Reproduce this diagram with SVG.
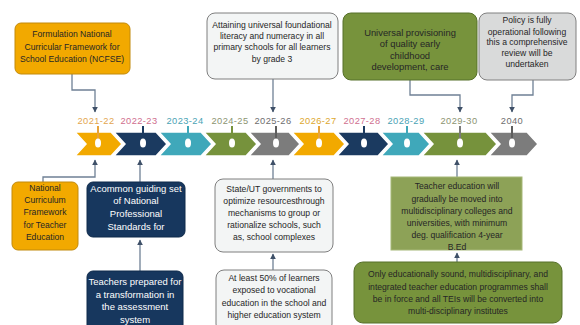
<svg xmlns="http://www.w3.org/2000/svg" width="580" height="325" viewBox="0 0 580 325">
<defs>
<marker id="ah" viewBox="0 0 10 10" refX="9" refY="5" markerWidth="6" markerHeight="6" orient="auto" markerUnits="userSpaceOnUse">
<path d="M0,0 L10,5 L0,10 z" fill="#3E5068"/>
</marker>
<style>
.t{font-family:"Liberation Sans",Arial,sans-serif;font-size:8.6px;text-anchor:middle}
.dk{fill:#262626}
.wh{fill:#ffffff}
.yr{font-family:"Liberation Sans",Arial,sans-serif;font-size:9.3px;text-anchor:middle;letter-spacing:0.4px}
.cv{stroke:#ffffff;stroke-width:1.5}
.stem{stroke-width:2;fill:none}
.dot{fill:#ffffff}
.con{fill:none;stroke:#6F8095;stroke-width:1.3}
.org{fill:#F2A900;stroke:#C28A0C;stroke-width:1}
.nav{fill:#17375E;stroke:#0F2A4A;stroke-width:1}
.lt{fill:#F3F5F5;stroke:#7F7F7F;stroke-width:1}
.olv{fill:#77933C;stroke:#56702A;stroke-width:1}
.gry{fill:#D9DADA;stroke:#808080;stroke-width:1}
</style>
</defs>
<rect width="580" height="325" fill="#ffffff"/>

<g id="timeline">
<polygon class="cv" fill="#F2A900" points="75,132 111,132 122,144 111,156 75,156 86,144"/>
<polygon class="cv" fill="#1B3A60" points="114,132 156,132 167,144 156,156 114,156 125,144"/>
<polygon class="cv" fill="#3FA8BA" points="159,132 201,132 212,144 201,156 159,156 170,144"/>
<polygon class="cv" fill="#76923C" points="204,132 246,132 257,144 246,156 204,156 215,144"/>
<polygon class="cv" fill="#7C7C7C" points="249,132 289,132 300,144 289,156 249,156 260,144"/>
<polygon class="cv" fill="#F2A900" points="292,132 334,132 345,144 334,156 292,156 303,144"/>
<polygon class="cv" fill="#1B3A60" points="337,132 378,132 389,144 378,156 337,156 348,144"/>
<polygon class="cv" fill="#3FA8BA" points="381,132 419,132 430,144 419,156 381,156 392,144"/>
<polygon class="cv" fill="#76923C" points="422,132 486,132 497,144 486,156 422,156 433,144"/>
<polygon class="cv" fill="#7C7C7C" points="489,132 527,132 538,144 527,156 489,156 500,144"/>

<line class="stem" stroke="#E8A33A" x1="98" y1="126" x2="98" y2="140"/>
<line class="stem" stroke="#1B3A60" x1="143" y1="126" x2="143" y2="140"/>
<line class="stem" stroke="#3FA8BA" x1="188" y1="126" x2="188" y2="140"/>
<line class="stem" stroke="#76923C" x1="232" y1="126" x2="232" y2="140"/>
<line class="stem" stroke="#5E5E5E" x1="276" y1="126" x2="276" y2="140"/>
<line class="stem" stroke="#E8A33A" x1="319" y1="126" x2="319" y2="140"/>
<line class="stem" stroke="#1B3A60" x1="364" y1="126" x2="364" y2="140"/>
<line class="stem" stroke="#3FA8BA" x1="407" y1="126" x2="407" y2="140"/>
<line class="stem" stroke="#7A7A7A" x1="460" y1="126" x2="460" y2="140"/>
<line class="stem" stroke="#5E5E5E" x1="512" y1="126" x2="512" y2="140"/>

<ellipse class="dot" cx="98" cy="143" rx="3" ry="4.5"/>
<ellipse class="dot" cx="143" cy="143" rx="3" ry="4.5"/>
<ellipse class="dot" cx="188" cy="143" rx="3" ry="4.5"/>
<ellipse class="dot" cx="232" cy="143" rx="3" ry="4.5"/>
<ellipse class="dot" cx="276" cy="143" rx="3" ry="4.5"/>
<ellipse class="dot" cx="319" cy="143" rx="3" ry="4.5"/>
<ellipse class="dot" cx="364" cy="143" rx="3" ry="4.5"/>
<ellipse class="dot" cx="407" cy="143" rx="3" ry="4.5"/>
<ellipse class="dot" cx="460" cy="143" rx="3" ry="4.5"/>
<ellipse class="dot" cx="512" cy="143" rx="3" ry="4.5"/>

<text class="yr" x="96" y="124" fill="#E3A650">2021-22</text>
<text class="yr" x="139" y="124" fill="#CF6E8E">2022-23</text>
<text class="yr" x="185" y="124" fill="#4AA3B5">2023-24</text>
<text class="yr" x="230" y="124" fill="#8C9471">2024-25</text>
<text class="yr" x="273" y="124" fill="#6E6E6E">2025-26</text>
<text class="yr" x="318" y="124" fill="#DDA72E">2026-27</text>
<text class="yr" x="362" y="124" fill="#D07090">2027-28</text>
<text class="yr" x="406" y="124" fill="#4AA3B5">2028-29</text>
<text class="yr" x="459" y="124" fill="#8C9471">2029-30</text>
<text class="yr" x="512" y="124" fill="#6E6E6E">2040</text>
</g>

<g id="connectors">
<path class="con" d="M72,74 V90 H95 V112" marker-end="url(#ah)"/>
<path class="con" d="M273,79 V112" marker-end="url(#ah)"/>
<path class="con" d="M410,80 V95 H460 V112" marker-end="url(#ah)"/>
<path class="con" d="M533,80 V95 H512 V112" marker-end="url(#ah)"/>
<path class="con" d="M43,182 V177 H95 V160" marker-end="url(#ah)"/>
<path class="con" d="M140,182 V160" marker-end="url(#ah)"/>
<path class="con" d="M140,271 V240" marker-end="url(#ah)"/>
<path class="con" d="M273,179 V160" marker-end="url(#ah)"/>
<path class="con" d="M273,270 V254" marker-end="url(#ah)"/>
<path class="con" d="M457,177 V160" marker-end="url(#ah)"/>
<path class="con" d="M457,262 V253" marker-end="url(#ah)"/>
</g>

<g id="ncfse">
<rect class="org" x="15" y="23" width="115" height="51" rx="6"/>
<text class="t dk"><tspan x="72" y="37">Formulation National</tspan><tspan x="72" y="49.5">Curricular  Framework for</tspan><tspan x="72" y="62">School Education (NCFSE)</tspan></text>
</g>

<g id="foundational">
<rect class="lt" x="207" y="13" width="131" height="66" rx="8"/>
<text class="t dk"><tspan x="272" y="28">Attaining  universal foundational</tspan><tspan x="272" y="39">literacy and  numeracy in all</tspan><tspan x="272" y="50">primary schools for all learners</tspan><tspan x="272" y="62">by grade 3</tspan></text>
</g>

<g id="ecce">
<rect class="olv" x="343" y="13" width="134" height="67" rx="8"/>
<text class="t dk" style="font-size:9.4px"><tspan x="410" y="35.5">Universal provisioning</tspan><tspan x="410" y="47">of  quality  early</tspan><tspan x="410" y="58.5">childhood</tspan><tspan x="410" y="70">development, care</tspan></text>
</g>

<g id="policy">
<rect class="gry" x="479" y="13" width="97" height="67" rx="8"/>
<text class="t dk"><tspan x="527" y="23">Policy is fully</tspan><tspan x="527" y="34.5">operational following</tspan><tspan x="527" y="45">this a comprehensive</tspan><tspan x="527" y="56">review will be</tspan><tspan x="527" y="66.5">undertaken</tspan></text>
</g>

<g id="ncfte">
<rect class="org" x="12" y="182" width="66" height="68" rx="6"/>
<text class="t dk"><tspan x="45" y="191">National</tspan><tspan x="45" y="203">Curriculum</tspan><tspan x="45" y="215">Framework</tspan><tspan x="45" y="228">for Teacher</tspan><tspan x="45" y="240">Education</tspan></text>
</g>

<g id="standards">
<rect class="nav" x="87" y="182" width="98" height="55" rx="6"/>
<text class="t wh" style="font-size:9.5px"><tspan x="136" y="192">Acommon guiding set</tspan><tspan x="136" y="204">of  National</tspan><tspan x="136" y="217">Professional</tspan><tspan x="136" y="230">Standards  for</tspan></text>
</g>

<g id="assessment">
<rect class="nav" x="87" y="271" width="96" height="62" rx="6"/>
<text class="t wh" style="font-size:9.5px"><tspan x="135" y="285">Teachers prepared for</tspan><tspan x="135" y="297.5">a  transformation in</tspan><tspan x="135" y="310">the  assessment</tspan><tspan x="135" y="322.5">system</tspan></text>
</g>

<g id="complexes">
<rect class="lt" x="215" y="179" width="118" height="73" rx="8"/>
<text class="t dk"><tspan x="274" y="192">State/UT governments to</tspan><tspan x="274" y="203.5">optimize resourcesthrough</tspan><tspan x="274" y="215.5">mechanisms to group or</tspan><tspan x="274" y="228">rationalize  schools, such</tspan><tspan x="274" y="240">as,   school complexes</tspan></text>
</g>

<g id="vocational">
<rect class="lt" x="216" y="270" width="116" height="62" rx="8"/>
<text class="t dk"><tspan x="274" y="280.5">At least  50% of learners</tspan><tspan x="274" y="292.5">exposed to vocational</tspan><tspan x="274" y="305.5">education in the school and</tspan><tspan x="274" y="317.5">higher education system</tspan></text>
</g>

<g id="teachered">
<rect x="391" y="177" width="131" height="73" fill="#8DA257" stroke="#A6B878" stroke-width="1"/>
<text class="t dk"><tspan x="457" y="189">Teacher education will</tspan><tspan x="457" y="201.5">gradually  be moved into</tspan><tspan x="457" y="214">multidisciplinary  colleges and</tspan><tspan x="457" y="226">universities,  with minimum</tspan><tspan x="457" y="238">deg. qualification  4-year</tspan><tspan x="457" y="250">B.Ed</tspan></text>
</g>

<g id="teis">
<rect class="olv" x="354" y="262" width="208" height="61" rx="9"/>
<text class="t dk"><tspan x="458" y="277">Only educationally  sound, multidisciplinary, and</tspan><tspan x="458" y="289.5">integrated teacher education programmes shall</tspan><tspan x="458" y="301.5">be in force and all TEIs will be converted into</tspan><tspan x="458" y="314">multi-disciplinary institutes</tspan></text>
</g>
</svg>
